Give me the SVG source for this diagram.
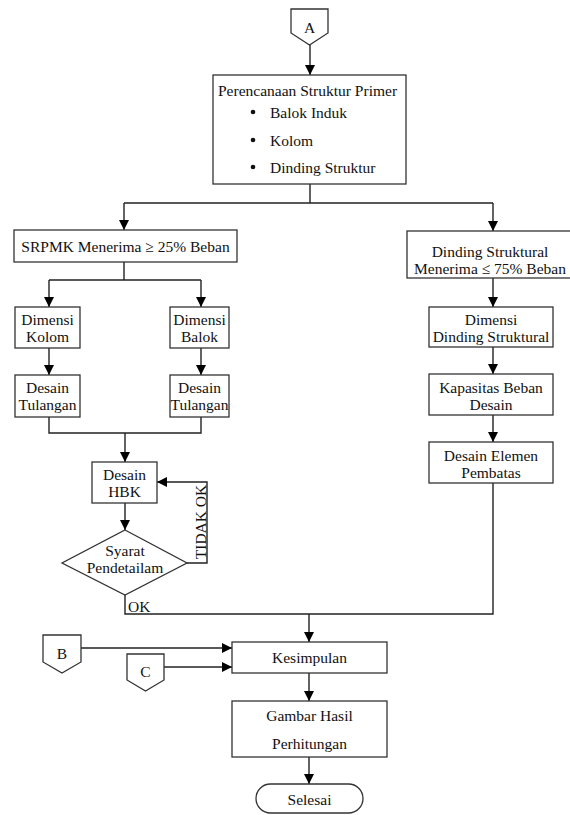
<svg xmlns="http://www.w3.org/2000/svg" width="570" height="815" viewBox="0 0 570 815">
<style>
.b{fill:#fff;stroke:#333;stroke-width:1.3}
.c{fill:none;stroke:#222;stroke-width:1.4}
text{font-family:"Liberation Serif","Times New Roman",serif;font-size:15.5px;fill:#111}
.m{text-anchor:middle;dominant-baseline:central}
</style>
<defs>
<marker id="ar" markerUnits="userSpaceOnUse" markerWidth="10" markerHeight="10" viewBox="0 0 10 10" refX="10" refY="5" orient="auto">
<path d="M0,0 L10,5 L0,10 z" fill="#000"/>
</marker>
</defs>
<rect width="570" height="815" fill="#fff"/>
<g id="connectors">
<path class="c" d="M310,45 V75" marker-end="url(#ar)"/>
<path class="c" d="M310,184 V203 M124,203 H493"/>
<path class="c" d="M124,203 V230" marker-end="url(#ar)"/>
<path class="c" d="M493,203 V231" marker-end="url(#ar)"/>
<path class="c" d="M124,262 V280 M49,280 H201"/>
<path class="c" d="M49,280 V307" marker-end="url(#ar)"/>
<path class="c" d="M201,280 V307" marker-end="url(#ar)"/>
<path class="c" d="M49,348 V375" marker-end="url(#ar)"/>
<path class="c" d="M201,348 V375" marker-end="url(#ar)"/>
<path class="c" d="M49,417 V433 H201 V417 M125,433 V462" marker-end="url(#ar)"/>
<path class="c" d="M125,503 V530" marker-end="url(#ar)"/>
<path class="c" d="M187,563 H207 V482 H157" marker-end="url(#ar)"/>
<path class="c" d="M493,278 V307" marker-end="url(#ar)"/>
<path class="c" d="M493,347 V374" marker-end="url(#ar)"/>
<path class="c" d="M493,415 V442" marker-end="url(#ar)"/>
<path class="c" d="M493,483 V614 H125 V595"/>
<path class="c" d="M309,614 V642" marker-end="url(#ar)"/>
<path class="c" d="M81,648 H232" marker-end="url(#ar)"/>
<path class="c" d="M164,667 H232" marker-end="url(#ar)"/>
<path class="c" d="M309,673 V701" marker-end="url(#ar)"/>
<path class="c" d="M309,757 V784" marker-end="url(#ar)"/>
<text x="200" y="522" class="m" transform="rotate(-90 200 522)">TIDAK OK</text>
<text x="128" y="606" dominant-baseline="central">OK</text>
</g>
<g id="A">
<path class="b" d="M291,9 H328 V33 L309.5,45 L291,33 Z"/>
<text x="309.5" y="27" class="m">A</text>
</g>
<g id="primer">
<rect class="b" x="213" y="75" width="193" height="109"/>
<text x="218" y="90" dominant-baseline="central">Perencanaan Struktur Primer</text>
<circle cx="253" cy="112" r="2.3" fill="#111"/>
<circle cx="253" cy="140" r="2.3" fill="#111"/>
<circle cx="253" cy="167" r="2.3" fill="#111"/>
<text x="270" y="112" dominant-baseline="central">Balok Induk</text>
<text x="270" y="140" dominant-baseline="central">Kolom</text>
<text x="270" y="167" dominant-baseline="central">Dinding Struktur</text>
</g>
<g id="srpmk">
<rect class="b" x="14" y="230" width="223" height="32"/>
<text x="125.5" y="246" class="m">SRPMK Menerima ≥ 25% Beban</text>
</g>
<g id="dimKolom">
<rect class="b" x="15" y="307" width="65" height="41"/>
<text x="47.5" y="319" class="m">Dimensi</text>
<text x="47.5" y="336" class="m">Kolom</text>
</g>
<g id="dimBalok">
<rect class="b" x="170" y="307" width="59" height="41"/>
<text x="199.5" y="319" class="m">Dimensi</text>
<text x="199.5" y="336" class="m">Balok</text>
</g>
<g id="tulKolom">
<rect class="b" x="15" y="375" width="65" height="42"/>
<text x="47.5" y="387" class="m">Desain</text>
<text x="47.5" y="404" class="m">Tulangan</text>
</g>
<g id="tulBalok">
<rect class="b" x="170" y="375" width="59" height="42"/>
<text x="199.5" y="387" class="m">Desain</text>
<text x="199.5" y="404" class="m">Tulangan</text>
</g>
<g id="hbk">
<rect class="b" x="92" y="462" width="65" height="41"/>
<text x="124.5" y="474" class="m">Desain</text>
<text x="124.5" y="491" class="m">HBK</text>
</g>
<g id="syarat">
<path class="b" d="M125,530 L187,563 L125,595 L62,563 Z"/>
<text x="125" y="550" class="m">Syarat</text>
<text x="125" y="567" class="m">Pendetailam</text>
</g>
<g id="dinding">
<rect class="b" x="407" y="231" width="166" height="47"/>
<text x="490" y="251" class="m">Dinding Struktural</text>
<text x="490" y="268" class="m">Menerima ≤ 75% Beban</text>
</g>
<g id="dimDinding">
<rect class="b" x="429" y="307" width="124" height="40"/>
<text x="491" y="319" class="m">Dimensi</text>
<text x="491" y="336" class="m">Dinding Struktural</text>
</g>
<g id="kapasitas">
<rect class="b" x="429" y="374" width="124" height="41"/>
<text x="491" y="387" class="m">Kapasitas Beban</text>
<text x="491" y="404" class="m">Desain</text>
</g>
<g id="elemen">
<rect class="b" x="429" y="442" width="124" height="41"/>
<text x="491" y="455" class="m">Desain Elemen</text>
<text x="491" y="472" class="m">Pembatas</text>
</g>
<g id="B">
<path class="b" d="M43,635 H81 V662 L62,673 L43,662 Z"/>
<text x="62" y="653" class="m">B</text>
</g>
<g id="C">
<path class="b" d="M127,654 H164 V680 L145.5,691 L127,680 Z"/>
<text x="145.5" y="671" class="m">C</text>
</g>
<g id="kesimpulan">
<rect class="b" x="232" y="642" width="155" height="31"/>
<text x="309.5" y="657" class="m">Kesimpulan</text>
</g>
<g id="gambar">
<rect class="b" x="232" y="701" width="155" height="56"/>
<text x="309.5" y="715" class="m">Gambar Hasil</text>
<text x="309.5" y="743" class="m">Perhitungan</text>
</g>
<g id="selesai">
<rect class="b" x="256" y="784" width="107" height="29" rx="14.5"/>
<text x="309.5" y="799" class="m">Selesai</text>
</g>
</svg>
